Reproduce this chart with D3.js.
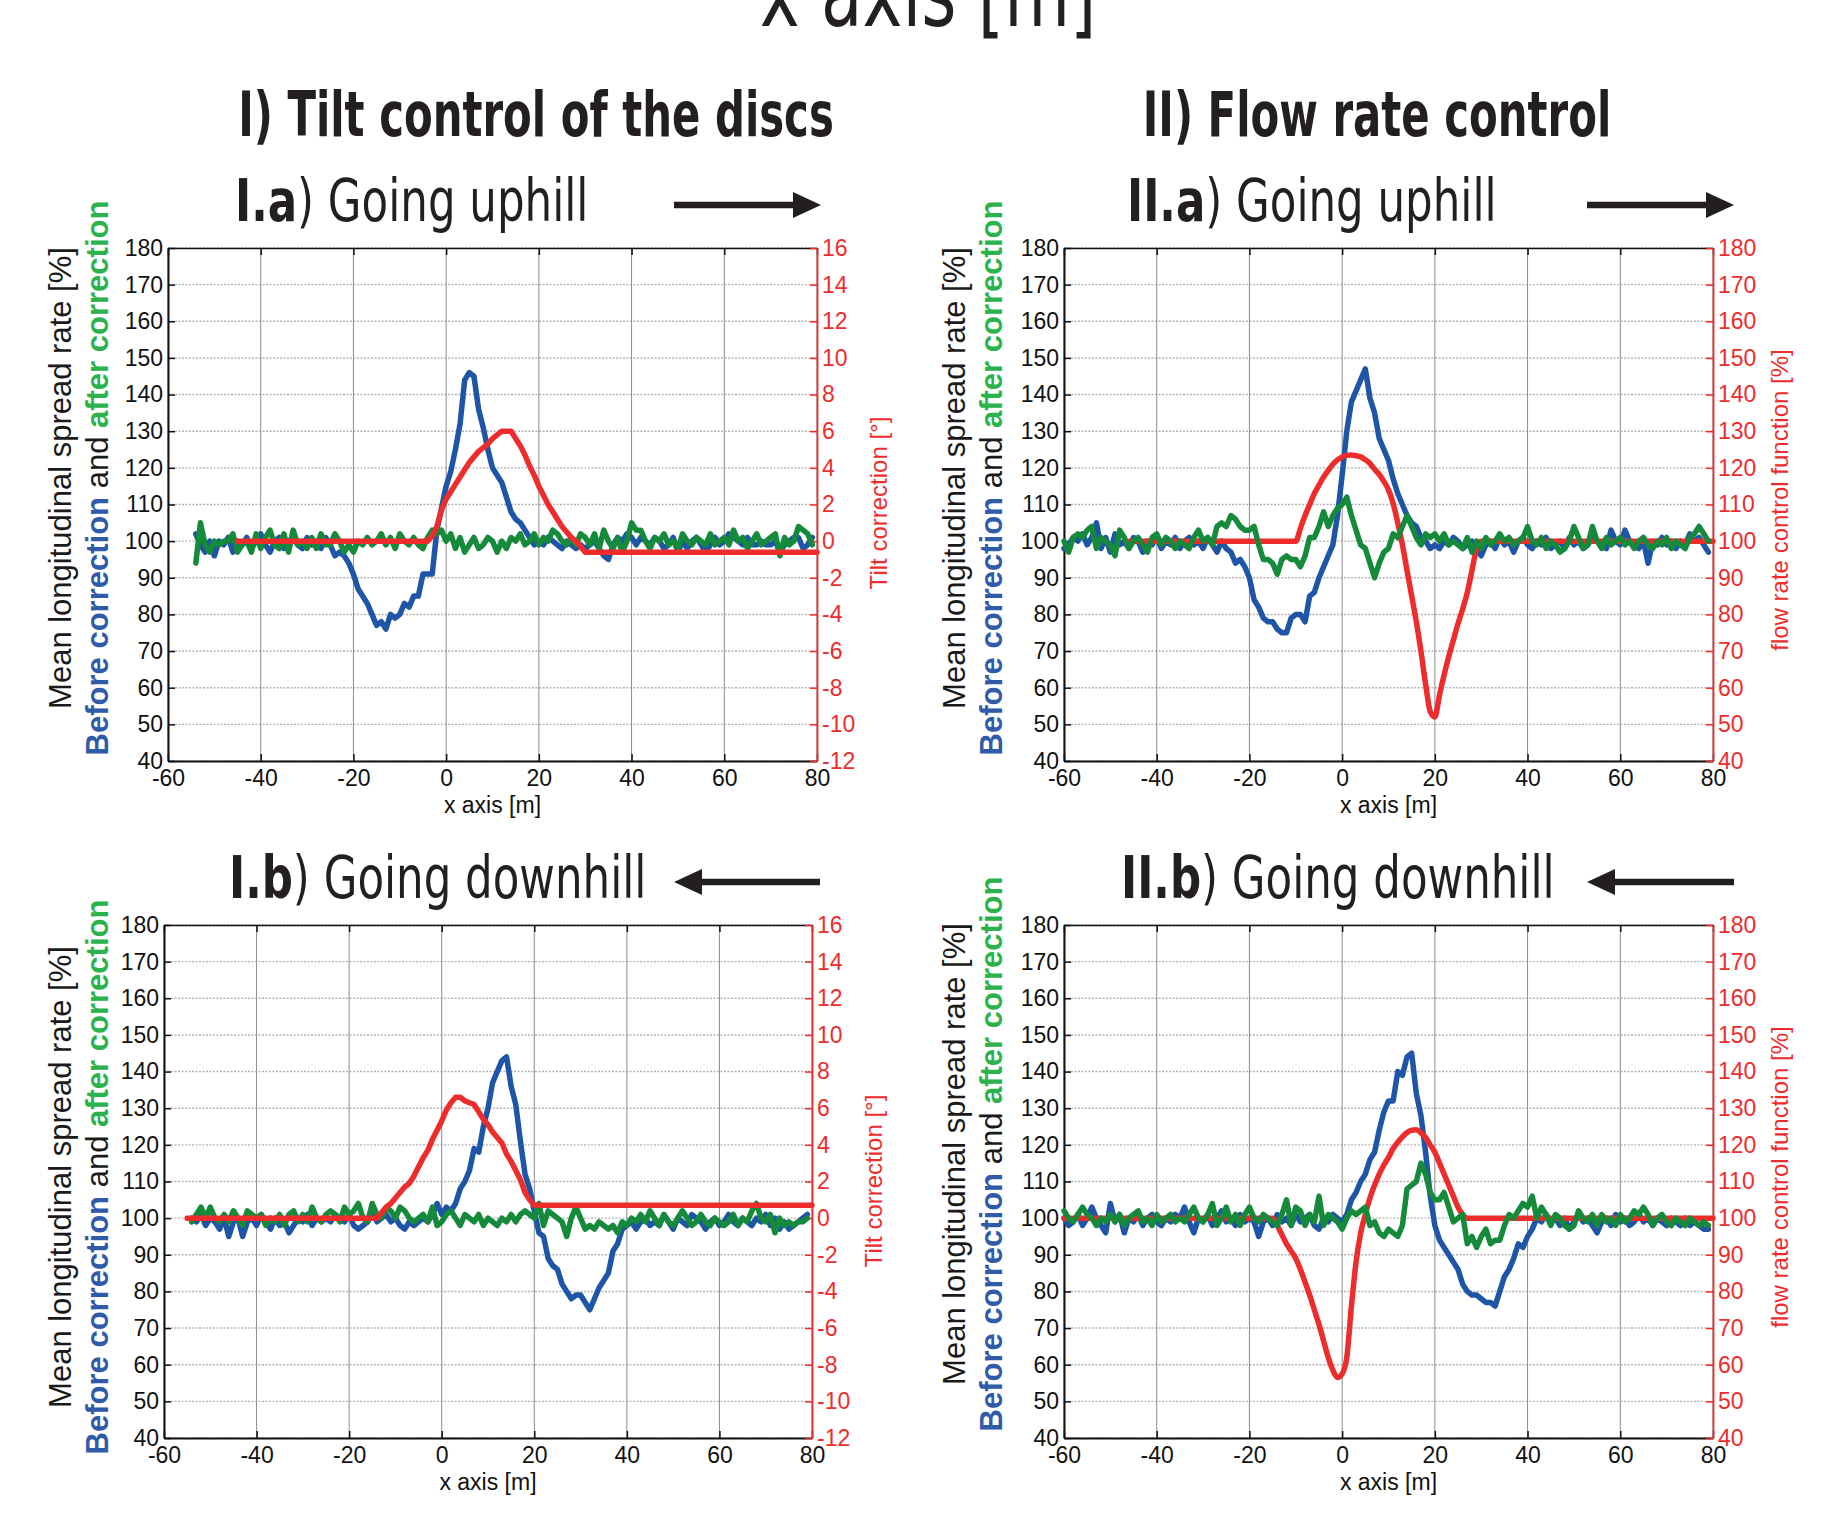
<!DOCTYPE html>
<html>
<head>
<meta charset="utf-8">
<script src="https://cdnjs.cloudflare.com/ajax/libs/d3/7.8.5/d3.min.js"></script>
<style>
  body { margin: 0; background: #ffffff; }
  svg text { font-family: "Liberation Sans", Arial, sans-serif; }
  .narrow { font-family: "DejaVu Sans Condensed", "DejaVu Sans", sans-serif !important; }
</style>
</head>
<body>
<div id="chart"></div>
<script>

// ---- ticks ----
var xTicks = [-60, -40, -20, 0, 20, 40, 60, 80];
var spreadTicks = [40, 50, 60, 70, 80, 90, 100, 110, 120, 130, 140, 150, 160, 170, 180];
var tiltTicks = [-12, -10, -8, -6, -4, -2, 0, 2, 4, 6, 8, 10, 12, 14, 16];
var flowTicks = [40, 50, 60, 70, 80, 90, 100, 110, 120, 130, 140, 150, 160, 170, 180];

// ---- I.a) tilt control, going uphill (one value per metre) ----
var ia_x0 = -54;
var ia_blue = [
  102, 99, 97, 100, 96, 100, 99, 101, 97, 100,
  99, 101, 98, 100, 102, 99, 97, 100, 101, 98,
  100, 101, 99, 98, 101, 99, 100, 98, 101, 99,
  96, 97, 96, 94, 91, 87, 85, 83, 80, 77,
  78, 76, 80, 79, 80, 83, 82, 85, 85, 91,
  91, 91, 103, 109, 115, 119, 125, 132, 144, 146,
  145, 136, 131, 125, 120, 118, 116, 112, 108, 106,
  105, 103, 101, 99, 100, 99, 101, 100, 99, 98,
  100, 99, 98, 99, 98, 99, 100, 98, 96, 95,
  99, 101, 100, 102, 101, 99, 101, 100, 99, 101,
  100, 98, 99, 101, 97, 100, 98, 100, 101, 99,
  97, 99, 101, 99, 100, 102, 101, 100, 99, 101,
  99, 99, 100, 99, 99, 100, 97, 99, 100, 101,
  101, 98, 99, 101
];
var ia_green = [
  94, 105, 99, 97, 100, 99, 100, 100, 102, 97,
  99, 100, 97, 102, 98, 101, 103, 99, 98, 102,
  97, 103, 99, 100, 98, 101, 98, 102, 99, 99,
  102, 100, 97, 99, 97, 100, 99, 101, 99, 100,
  102, 99, 101, 98, 102, 100, 99, 101, 99, 98,
  101, 103, 102, 103, 100, 102, 98, 101, 97, 99,
  101, 98, 99, 101, 100, 97, 100, 98, 101, 100,
  102, 99, 100, 102, 99, 101, 100, 103, 102, 100,
  99, 101, 99, 102, 101, 99, 102, 98, 103, 100,
  98, 101, 97, 100, 105, 103, 103, 100, 98, 101,
  100, 102, 99, 100, 98, 102, 100, 99, 101, 100,
  99, 102, 99, 100, 101, 99, 103, 100, 101, 98,
  100, 102, 99, 100, 101, 102, 96, 101, 99, 100,
  104, 103, 102, 99
];
// tilt correction [deg], [x, value]
var ia_red = [
  [-45, 0], [-4, 0], [-3, 0.3], [-2, 0.8], [-1, 1.7], [0, 2.3], [1, 2.7], [2, 3.1],
  [3, 3.5], [4, 3.9], [5, 4.3], [6, 4.6], [7, 4.9], [8, 5.1], [9, 5.3], [10, 5.6],
  [11, 5.8], [12, 6], [14, 6], [15, 5.6], [16, 5.2], [17, 4.7], [18, 4.1], [19, 3.6],
  [20, 3.0], [21, 2.5], [22, 2.0], [23, 1.6], [24, 1.2], [25, 0.8], [26, 0.5], [27, 0.2],
  [28, 0], [29, -0.3], [30, -0.6], [80, -0.6]
];

// ---- II.a) flow rate control, going uphill ----
var iia_x0 = -60;
var iia_blue = [
  98, 99, 101, 100, 102, 99, 101, 105, 98, 101,
  97, 102, 99, 100, 98, 101, 100, 97, 100, 99,
  101, 98, 100, 99, 101, 98, 100, 101, 99, 100,
  98, 101, 99, 97, 100, 98, 97, 94, 95, 93,
  90, 84, 82, 79, 78, 78, 76, 75, 75, 79,
  80, 80, 78, 85, 86, 90, 93, 96, 99, 107,
  118, 130, 138, 141, 144, 147, 139, 135, 128, 125,
  122, 117, 113, 110, 107, 105, 104, 101, 100, 98,
  99, 98, 100, 99, 101, 100, 98, 99, 100, 98,
  96, 99, 100, 98, 101, 99, 100, 97, 100, 101,
  99, 98, 100, 99, 101, 98, 99, 100, 98, 101,
  99, 100, 98, 99, 101, 100, 99, 98, 103, 100,
  99, 103, 100, 99, 98, 100, 94, 100, 99, 101,
  99, 100, 98, 100, 99, 102, 100, 101, 99, 97
];
var iia_green = [
  100, 97, 101, 102, 101, 103, 104, 98, 101, 100,
  99, 96, 103, 101, 98, 100, 101, 99, 97, 101,
  102, 99, 101, 100, 98, 100, 99, 98, 101, 103,
  100, 101, 99, 104, 105, 104, 107, 106, 104, 103,
  103, 104, 99, 95, 95, 94, 91, 95, 96, 95,
  95, 93, 96, 101, 101, 104, 108, 104, 107, 109,
  110, 112, 107, 103, 99, 98, 94, 90, 94, 97,
  98, 102, 101, 104, 107, 104, 101, 99, 102, 101,
  102, 100, 102, 99, 100, 99, 98, 101, 97, 100,
  98, 101, 99, 100, 102, 100, 101, 99, 100, 101,
  104, 100, 99, 101, 98, 100, 99, 97, 98, 100,
  104, 101, 98, 99, 104, 100, 98, 101, 99, 100,
  101, 99, 100, 98, 100, 101, 99, 98, 100, 99,
  101, 98, 100, 99, 98, 101, 102, 104, 102, 100
];
// flow rate control function [%], [x, value]
var iia_red = [
  [-46, 100], [-10, 100], [-9, 103.5], [-8, 107], [-7, 110], [-6, 113], [-5, 115.3],
  [-4, 117.5], [-3, 119.3], [-2, 121], [-1, 122.2], [0, 123], [1, 123.4], [2, 123.5],
  [3, 123.3], [4, 123], [5, 122.2], [6, 121.2], [7, 119.6], [8, 118.2], [9, 116.3],
  [10, 114], [11, 110.3], [12, 105], [13, 99], [14, 92], [15, 85], [16, 78], [17, 70],
  [18, 61], [19, 53.5], [20, 52], [21, 58], [22, 63.5], [23, 68.5], [24, 73], [25, 77.5],
  [26, 81.5], [27, 86], [28, 92], [29, 98], [30, 100], [80, 100]
];

// ---- I.b) tilt control, going downhill ----
var ib_x0 = -54;
var ib_blue = [
  100, 99, 101, 98, 100, 99, 97, 100, 95, 99,
  100, 95, 99, 100, 98, 101, 99, 97, 100, 98,
  99, 96, 98, 100, 99, 101, 98, 100, 99, 100,
  99, 101, 100, 99, 101, 98, 97, 98, 99, 102,
  99, 100, 101, 99, 100, 98, 97, 99, 98, 99,
  100, 99, 101, 104, 101, 103, 102, 104, 108, 110,
  113, 119, 118, 125, 130, 137, 140, 143, 144, 136,
  131, 121, 112, 108, 102, 96, 95, 89, 87, 86,
  82, 80, 78, 79, 79, 77, 75, 78, 81, 83,
  85, 91, 93, 97, 98, 99, 97, 99, 100, 98,
  99, 98, 101, 99, 97, 100, 99, 98, 101, 100,
  99, 97, 99, 100, 98, 99, 101, 99, 98, 100,
  99, 98, 100, 99, 101, 98, 100, 97, 99, 97,
  98, 99, 100, 101
];
var ib_green = [
  99, 101, 103, 100, 103, 100, 99, 101, 99, 102,
  100, 98, 102, 101, 100, 101, 98, 100, 99, 101,
  98, 101, 102, 99, 101, 99, 103, 100, 99, 101,
  102, 101, 99, 103, 101, 102, 104, 100, 99, 104,
  101, 100, 103, 102, 100, 103, 102, 100, 99, 100,
  101, 99, 103, 98, 99, 101, 102, 100, 98, 101,
  100, 99, 101, 98, 100, 99, 98, 100, 99, 101,
  99, 101, 102, 101, 100, 104, 98, 102, 101, 100,
  99, 95, 100, 103, 100, 97, 98, 97, 99, 98,
  97, 98, 96, 99, 98, 100, 99, 101, 99, 102,
  100, 98, 101, 99, 98, 100, 102, 100, 98, 99,
  101, 99, 98, 100, 99, 98, 99, 101, 98, 100,
  99, 102, 104, 100, 99, 101, 96, 100, 98, 99,
  98, 99, 99, 100
];
var ib_red = [
  [-55, 0], [-14, 0], [-13, 0.3], [-12, 0.6], [-11, 0.8], [-10, 1.1], [-9, 1.4], [-8, 1.7],
  [-7, 1.9], [-6, 2.3], [-5, 2.8], [-4, 3.3], [-3, 3.7], [-2, 4.3], [-1, 4.8], [0, 5.3],
  [1, 5.9], [2, 6.3], [3, 6.6], [4, 6.6], [5, 6.4], [6, 6.3], [7, 6.2], [8, 5.8], [9, 5.4],
  [10, 5.1], [11, 4.7], [12, 4.4], [13, 4.1], [14, 3.5], [15, 3.1], [16, 2.6], [17, 2.1],
  [18, 1.4], [19, 1.0], [20, 0.7], [80, 0.7]
];

// ---- II.b) flow rate control, going downhill ----
var iib_x0 = -60;
var iib_blue = [
  100, 98, 99, 101, 98, 100, 103, 100, 98, 96,
  104, 99, 101, 96, 100, 99, 101, 98, 100, 101,
  99, 98, 100, 99, 101, 100, 103, 99, 96, 100,
  99, 101, 98, 100, 102, 99, 100, 98, 101, 99,
  100, 99, 95, 99, 100, 98, 101, 99, 100, 98,
  101, 99, 100, 101, 98, 97, 100, 99, 101, 100,
  99, 101, 105, 107, 110, 112, 116, 118, 124, 129,
  132, 132, 140, 139, 144, 145, 134, 128, 118, 106,
  98, 94, 92, 90, 88, 86, 82, 80, 79, 79,
  78, 77, 77, 76, 80, 84, 86, 89, 93, 92,
  95, 97, 100, 99, 101, 99, 100, 98, 100, 97,
  99, 101, 99, 100, 98, 96, 99, 100, 98, 101,
  99, 100, 98, 99, 101, 99, 100, 98, 100, 99,
  98, 100, 99, 98, 100, 98, 99, 98, 97, 97
];
var iib_green = [
  102, 100, 99, 101, 103, 101, 100, 98, 100, 99,
  101, 99, 101, 98, 100, 101, 102, 99, 100, 98,
  101, 99, 100, 101, 99, 100, 99, 101, 103, 100,
  99, 101, 104, 98, 100, 103, 99, 101, 98, 101,
  103, 100, 99, 101, 100, 99, 98, 101, 105, 98,
  103, 102, 98, 101, 99, 106, 98, 101, 100, 99,
  97, 100, 102, 101, 102, 103, 98, 99, 96, 95,
  97, 96, 95, 98, 108, 109, 110, 115, 112, 107,
  105, 105, 107, 103, 99, 100, 101, 93, 95, 92,
  95, 97, 93, 94, 94, 98, 101, 100, 102, 104,
  103, 106, 100, 103, 101, 98, 101, 100, 98, 97,
  98, 102, 100, 99, 101, 98, 101, 99, 100, 98,
  101, 99, 100, 102, 101, 103, 101, 98, 100, 101,
  99, 98, 100, 99, 98, 100, 99, 98, 99, 98
];
var iib_red = [
  [-60, 100], [-15, 100], [-14, 98], [-13, 95.5], [-12, 93], [-11, 91], [-10, 89], [-9, 86],
  [-8, 82.5], [-7, 79], [-6, 75], [-5, 71], [-4, 66.5], [-3, 62], [-2, 58.5], [-1, 56.5],
  [0, 57.5], [1, 62], [2, 76], [3, 88], [4, 96], [5, 101], [6, 105.5], [7, 109], [8, 112],
  [9, 114.5], [10, 116.6], [11, 119], [12, 120.7], [13, 122.2], [14, 123.4], [15, 124],
  [16, 124.1], [17, 123.3], [18, 122], [19, 120], [20, 118], [21, 115], [22, 112], [23, 109],
  [24, 106], [25, 103], [26, 101], [27, 100], [80, 100]
];

var BLUE = "#1f55a6", GREEN = "#168a3b", RED = "#ee2c2c", INK = "#231f20";

var width = 1845, height = 1514;

var svg = d3.select("#chart")
  .append("svg")
  .attr("width", width)
  .attr("height", height)

function toPoints(values, x0) {
  return values.map(function(v, i) { return [x0 + i, v] })
}

function drawPanel(p) {
  var w = p.right - p.left, h = p.bottom - p.top;
  var g = svg.append("g").attr("transform", "translate(" + p.left + "," + p.top + ")")

  var x = d3.scaleLinear().domain([-60, 80]).range([0, w])
  var y = d3.scaleLinear().domain([40, 180]).range([h, 0])
  var yR = d3.scaleLinear().domain(p.rightDomain).range([h, 0])

  // grid
  g.selectAll(".hgrid").data(spreadTicks).enter().append("line")
    .attr("x1", 0).attr("x2", w)
    .attr("y1", function(d) { return y(d) }).attr("y2", function(d) { return y(d) })
    .attr("stroke", "#b4b4b4").attr("stroke-width", 1.4).attr("stroke-dasharray", "2,1.5")
  g.selectAll(".vgrid").data(xTicks).enter().append("line")
    .attr("x1", function(d) { return x(d) }).attr("x2", function(d) { return x(d) })
    .attr("y1", 0).attr("y2", h)
    .attr("stroke", "#8c8c8c").attr("stroke-width", 1)

  var fmt = function(d) { return String(d) }

  var axTop = g.append("g")
    .call(d3.axisTop(x).tickValues(xTicks).tickSizeInner(-7).tickSizeOuter(0).tickFormat(""))
  var axBottom = g.append("g").attr("transform", "translate(0," + h + ")")
    .call(d3.axisBottom(x).tickValues(xTicks).tickSizeInner(-7).tickSizeOuter(0).tickPadding(9).tickFormat(fmt))
  var axLeft = g.append("g")
    .call(d3.axisLeft(y).tickValues(spreadTicks).tickSizeInner(-7).tickSizeOuter(0).tickPadding(5).tickFormat(fmt))
  var axRight = g.append("g").attr("transform", "translate(" + w + ",0)")
    .call(d3.axisRight(yR).tickValues(p.rightTicks).tickSizeInner(-7).tickSizeOuter(0).tickPadding(5).tickFormat(fmt))

  ;[axTop, axBottom, axLeft].forEach(function(a) {
    a.selectAll("path").attr("stroke", "#111").attr("stroke-width", 2)
    a.selectAll("line").attr("stroke", "#111").attr("stroke-width", 1.5)
    a.selectAll("text").attr("font-family", "Liberation Sans, Arial, sans-serif")
      .attr("font-size", 23).attr("fill", "#111")
  })
  axTop.selectAll("path").attr("stroke-width", 1.5)
  axRight.selectAll("path").attr("stroke", RED).attr("stroke-width", 1.8)
  axRight.selectAll("line").attr("stroke", RED).attr("stroke-width", 1.5)
  axRight.selectAll("text").attr("font-family", "Liberation Sans, Arial, sans-serif")
    .attr("font-size", 23).attr("fill", RED)

  // x axis title
  g.append("text")
    .attr("x", w / 2).attr("y", h + 52)
    .attr("text-anchor", "middle")
    .attr("font-size", 23).attr("fill", "#111")
    .text("x axis [m]")

  // series
  var line = d3.line().x(function(d) { return x(d[0]) }).y(function(d) { return y(d[1]) })
  var lineR = d3.line().x(function(d) { return x(d[0]) }).y(function(d) { return yR(d[1]) })
    .curve(p.smoothRed ? d3.curveMonotoneX : d3.curveLinear)

  var series = [
    { d: line(toPoints(p.blue, p.x0)), c: BLUE },
    { d: line(toPoints(p.green, p.x0)), c: GREEN },
    { d: lineR(p.red), c: RED }
  ]
  if (p.smoothRed) { series = [series[0], series[2], series[1]] }

  g.selectAll(".series").data(series).enter().append("path")
    .attr("d", function(d) { return d.d })
    .attr("fill", "none")
    .attr("stroke", function(d) { return d.c })
    .attr("stroke-width", 5.5)
    .attr("stroke-linejoin", "round")
    .attr("stroke-linecap", "round")

  // left axis titles (two rotated lines)
  svg.append("text")
    .attr("transform", "translate(" + p.yLab1 + "," + p.yLabCy + ") rotate(-90)")
    .attr("text-anchor", "middle")
    .attr("font-size", 31).attr("fill", "#1a1a1a")
    .text("Mean longitudinal spread rate [%]")
  var t2 = svg.append("text")
    .attr("transform", "translate(" + p.yLab2 + "," + p.yLabCy + ") rotate(-90)")
    .attr("text-anchor", "middle")
    .attr("font-size", 31)
  t2.append("tspan").attr("font-weight", "bold").attr("fill", "#2f5ba8").text("Before correction")
  t2.append("tspan").attr("fill", "#1a1a1a").text(" and ")
  t2.append("tspan").attr("font-weight", "bold").attr("fill", "#2bb24c").text("after correction")

  // right axis title
  svg.append("text")
    .attr("transform", "translate(" + p.rLabX + "," + p.rLabCy + ") rotate(-90)")
    .attr("text-anchor", "middle")
    .attr("font-size", p.rLabSize).attr("fill", RED)
    .text(p.rightLabel)

  // panel subtitle (condensed display face)
  var st = svg.append("text")
    .attr("class", "narrow")
    .attr("transform", "translate(" + p.subX + "," + p.subY + ") scale(0.82,1)")
    .attr("font-size", 59).attr("fill", INK)
  st.append("tspan").attr("font-weight", "bold").text(p.subBold)
  st.append("tspan").text(") " + p.subText)

  // direction arrow
  var ay = p.subY - 16, a0 = p.arrow[0], a1 = p.arrow[1], head = 28;
  var tip = p.arrowRight ? a1 : a0, base = p.arrowRight ? a1 - head : a0 + head;
  svg.append("line")
    .attr("x1", p.arrowRight ? a0 : base).attr("x2", p.arrowRight ? base : a1)
    .attr("y1", ay).attr("y2", ay)
    .attr("stroke", INK).attr("stroke-width", 6.5)
  svg.append("path")
    .attr("d", "M" + tip + "," + ay + "L" + base + "," + (ay - 13) + "L" + base + "," + (ay + 13) + "Z")
    .attr("fill", INK)
}

var panels = [
  { left: 168, top: 248, right: 817, bottom: 761, x0: ia_x0, blue: ia_blue, green: ia_green, red: ia_red,
    rightDomain: [-12, 16], rightTicks: tiltTicks, rightLabel: "Tilt correction [°]", rLabSize: 24,
    rLabX: 887, rLabCy: 503, yLab1: 71, yLab2: 108, yLabCy: 478,
    subBold: "I.a", subText: "Going uphill", subX: 235, subY: 221, arrow: [674, 821], arrowRight: true },
  { left: 1064, top: 248, right: 1713, bottom: 761, x0: iia_x0, blue: iia_blue, green: iia_green, red: iia_red,
    rightDomain: [40, 180], rightTicks: flowTicks, rightLabel: "flow rate control function [%]", rLabSize: 24,
    rLabX: 1788, rLabCy: 500, yLab1: 965, yLab2: 1002, yLabCy: 478, smoothRed: true,
    subBold: "II.a", subText: "Going uphill", subX: 1127, subY: 221, arrow: [1587, 1734], arrowRight: true },
  { left: 164, top: 925, right: 812, bottom: 1438, x0: ib_x0, blue: ib_blue, green: ib_green, red: ib_red,
    rightDomain: [-12, 16], rightTicks: tiltTicks, rightLabel: "Tilt correction [°]", rLabSize: 24,
    rLabX: 882, rLabCy: 1181, yLab1: 71, yLab2: 108, yLabCy: 1177,
    subBold: "I.b", subText: "Going downhill", subX: 229, subY: 898, arrow: [674, 820], arrowRight: false },
  { left: 1064, top: 925, right: 1713, bottom: 1438, x0: iib_x0, blue: iib_blue, green: iib_green, red: iib_red,
    rightDomain: [40, 180], rightTicks: flowTicks, rightLabel: "flow rate control function [%]", rLabSize: 24,
    rLabX: 1788, rLabCy: 1177, yLab1: 965, yLab2: 1002, yLabCy: 1154, smoothRed: true,
    subBold: "II.b", subText: "Going downhill", subX: 1121, subY: 898, arrow: [1587, 1734], arrowRight: false }
];

panels.forEach(drawPanel)

// big headings (condensed display face)
svg.append("text")
  .attr("class", "narrow")
  .attr("transform", "translate(928,26) scale(0.79,1)")
  .attr("text-anchor", "middle")
  .attr("font-size", 95).attr("fill", INK)
  .text("x axis [m]")

svg.append("text")
  .attr("class", "narrow")
  .attr("transform", "translate(536,136) scale(0.75,1)")
  .attr("text-anchor", "middle")
  .attr("font-size", 62).attr("font-weight", "bold").attr("fill", INK)
  .text("I) Tilt control of the discs")

svg.append("text")
  .attr("class", "narrow")
  .attr("transform", "translate(1377,136) scale(0.75,1)")
  .attr("text-anchor", "middle")
  .attr("font-size", 62).attr("font-weight", "bold").attr("fill", INK)
  .text("II) Flow rate control")

</script>
</body>
</html>
